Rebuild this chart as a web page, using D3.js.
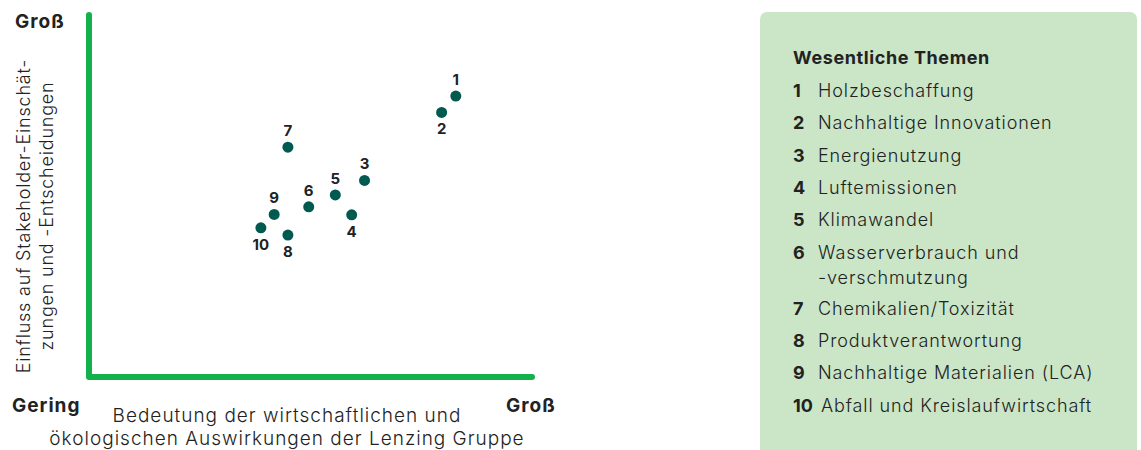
<!DOCTYPE html>
<html>
<head>
<meta charset="utf-8">
<script src="https://cdn.jsdelivr.net/npm/d3@7"></script>
<style>
  body { margin: 0; background: #fff; }
  svg text { font-family: Inter, "Noto Sans", sans-serif; fill: #222; }
</style>
</head>
<body>
<div id="chart"></div>
<script>
// topic ids and names
var ids = [1, 2, 3, 4, 5, 6, 7, 8, 9, 10]
var topics = [
    "Holzbeschaffung",
    "Nachhaltige Innovationen",
    "Energienutzung",
    "Luftemissionen",
    "Klimawandel",
    ["Wasserverbrauch und", "-verschmutzung"],
    "Chemikalien/Toxizität",
    "Produktverantwortung",
    "Nachhaltige Materialien (LCA)",
    "Abfall und Kreislaufwirtschaft"
]
// significance of impacts (x) and influence on stakeholders (y), 0..100
var impact =    [82.8, 79.6, 62.2, 59.3, 55.6, 49.6, 44.9, 44.9, 41.8, 38.8]
var influence = [77.6, 73.1, 54.3, 44.8, 50.3, 47.0, 63.5, 39.2, 44.9, 41.2]
// where the number sits relative to its dot
var labelSide = ["top", "bottom", "top", "bottom", "top", "top", "top", "bottom", "top", "bottom"]

var width = 1141, height = 450

var svg = d3.select("#chart").append("svg")
    .attr("width", width)
    .attr("height", height)

var x_scale = d3.scaleLinear().domain([0, 100]).range([89, 532]),
    y_scale = d3.scaleLinear().domain([0, 100]).range([377, 15])

// axes drawn as thick green lines
var green = "#13b04b"
svg.append("path")
    .attr("d", d3.line()([[x_scale(0), y_scale(100)], [x_scale(0), y_scale(0)], [x_scale(100), y_scale(0)]]))
    .attr("fill", "none")
    .attr("stroke", green)
    .attr("stroke-width", 6)
    .attr("stroke-linecap", "round")
    .attr("stroke-linejoin", "round")

// end labels
function endLabel(x, y, t) {
    svg.append("text").attr("x", x).attr("y", y)
        .style("font-size", "19px").style("font-weight", 700)
        .style("letter-spacing", "1px").text(t)
}
endLabel(15, 28, "Groß")
endLabel(12, 412, "Gering")
endLabel(506, 412, "Groß")

// x axis title
var xt = svg.append("text").attr("text-anchor", "middle")
    .style("font-size", "19px").style("font-weight", 300).style("letter-spacing", "1px")
xt.append("tspan").attr("x", 287).attr("y", 422).text("Bedeutung der wirtschaftlichen und")
xt.append("tspan").attr("x", 287).attr("y", 445).text("ökologischen Auswirkungen der Lenzing Gruppe")

// y axis title
var yt = svg.append("text").attr("text-anchor", "middle")
    .attr("transform", "translate(0,216) rotate(-90)")
    .style("font-size", "18px").style("font-weight", 300).style("letter-spacing", "0.8px")
yt.append("tspan").attr("x", 0).attr("y", 30).text("Einfluss auf Stakeholder-Einschät-")
yt.append("tspan").attr("x", 0).attr("y", 53).text("zungen und -Entscheidungen")

// points
var pts = ids.map(function (d, i) {
    return { id: d, x: impact[i], y: influence[i], side: labelSide[i] }
})

var g = svg.append("g")
g.selectAll(".dot")
    .data(pts)
    .enter().append("circle")
    .attr("class", "dot")
    .attr("cx", function (d) { return x_scale(d.x) })
    .attr("cy", function (d) { return y_scale(d.y) })
    .attr("r", 5.5)
    .attr("fill", "#005a4f")

g.selectAll(".lbl")
    .data(pts)
    .enter().append("text")
    .attr("class", "lbl")
    .attr("text-anchor", "middle")
    .attr("x", function (d) { return x_scale(d.x) })
    .attr("y", function (d) { return y_scale(d.y) + (d.side == "top" ? -11 : 22) })
    .style("font-size", "15px")
    .style("font-weight", 700)
    .text(function (d) { return d.id })

// legend panel
var lg = svg.append("g")
lg.append("rect")
    .attr("x", 760).attr("y", 12)
    .attr("width", 377).attr("height", 460)
    .attr("rx", 7)
    .attr("fill", "#cbe5c7")

lg.append("text").attr("x", 793).attr("y", 64)
    .style("font-size", "18px").style("font-weight", 700).style("letter-spacing", "0.6px")
    .text("Wesentliche Themen")

var rowY = 97
topics.forEach(function (t, i) {
    var lines = Array.isArray(t) ? t : [t]
    lg.append("text").attr("x", 793).attr("y", rowY)
        .style("font-size", "18px").style("font-weight", 700).text(ids[i])
    var tt = lg.append("text").style("font-size", "18px").style("font-weight", 300)
        .style("letter-spacing", "0.9px")
    lines.forEach(function (l, j) {
        tt.append("tspan").attr("x", ids[i] == 10 ? 821 : 818).attr("y", rowY + j * 25).text(l)
    })
    rowY += 32.3 + (lines.length - 1) * 24
})
</script>
</body>
</html>
